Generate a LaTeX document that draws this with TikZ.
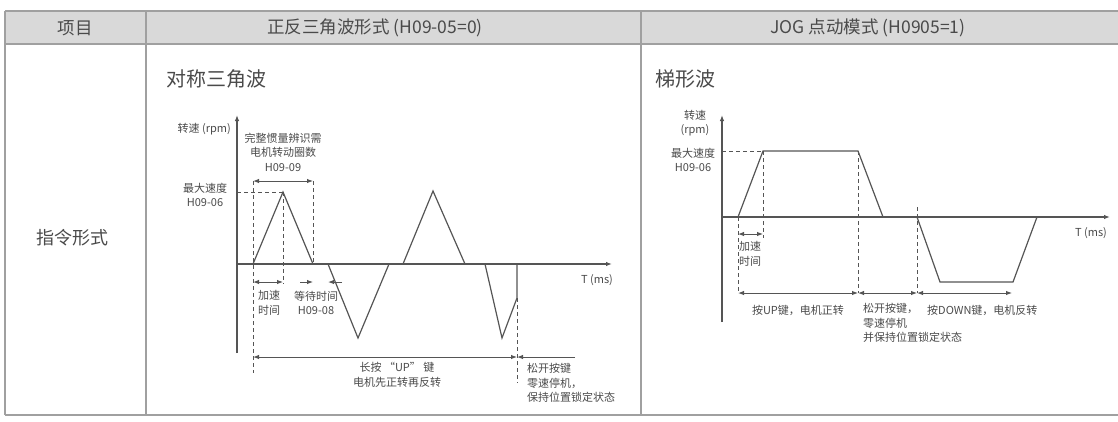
\documentclass[tikz,border=0pt]{standalone}
\usepackage{fontspec}
\setmainfont{Noto Sans CJK SC}
\usetikzlibrary{arrows.meta}
\definecolor{txt}{HTML}{4A4A4A}
\definecolor{ln}{HTML}{555555}
\definecolor{grid}{HTML}{A0A0A0}
\definecolor{hdr}{HTML}{D9D9D9}
\begin{document}
\begin{tikzpicture}[x=1pt,y=-1pt,
  gridline/.style={draw=grid,line width=1.2pt},
  hd/.style={font=\fontsize{17.5}{20}\selectfont,text=txt,inner sep=0pt},
  rowlbl/.style={font=\fontsize{18}{20}\selectfont,text=txt,inner sep=0pt},
  ttl/.style={font=\fontsize{20}{22}\selectfont,text=txt,inner sep=0pt},
  lbl/.style={font=\fontsize{11}{14.5}\selectfont,text=txt,inner sep=0pt,align=center},
  wave/.style={draw=ln,line width=1.2pt,line join=miter},
  axis/.style={draw=ln,line width=1.2pt},
  dsh/.style={draw=ln,line width=1pt,dash pattern=on 4pt off 3pt},
  tip/.style={-{Latex[length=6pt,width=4.5pt]}},
  dtip/.style={{Latex[length=6pt,width=4.5pt]}-{Latex[length=6pt,width=4.5pt]}},
  dim/.style={draw=ln,line width=1pt}]
\useasboundingbox (0,0) rectangle (1118,421);
% table
\fill[hdr] (5,11) rectangle (1118,44);
\coordinate (tl) at (5,11); \coordinate (tr) at (1118,11);
\coordinate (hl) at (5,44); \coordinate (hr) at (1118,44);
\coordinate (bl) at (5,415); \coordinate (br) at (1118,415);
\coordinate (c1t) at (146,11); \coordinate (c1b) at (146,415);
\coordinate (c2t) at (641,11); \coordinate (c2b) at (641,415);
\draw[gridline] (tl) -- (tr);
\draw[gridline] (hl) -- (hr);
\draw[gridline] (bl) -- (br);
\draw[gridline] (tl) -- (bl);
\draw[gridline] (c1t) -- (c1b);
\draw[gridline] (c2t) -- (c2b);
\node[hd] (h1) at (75,28) {项目};
\node[hd] (h2) at (375,28) {正反三角波形式 (H09-05=0)};
\node[hd] (h3) at (868,28) {JOG 点动模式 (H0905=1)};
\node[rowlbl,anchor=west] (r1) at (36,238) {指令形式};
\node[ttl,anchor=west] (t1) at (166,79) {对称三角波};
\node[ttl,anchor=west] (t2) at (655,79) {梯形波};

% ---------- left chart ----------
\coordinate (yt) at (237,115); \coordinate (yb) at (237,353);
\coordinate (o) at (237,264); \coordinate (xe) at (612,264);
\draw[axis,tip] (yb) -- (yt);
\draw[axis,tip] (o) -- (xe);
\coordinate (a0) at (253,264); \coordinate (a1) at (283,192);
\coordinate (a2) at (313,264); \coordinate (a3) at (328,264);
\coordinate (a4) at (358,338); \coordinate (a5) at (389,264);
\coordinate (a6) at (403,264); \coordinate (a7) at (433,191);
\coordinate (a8) at (465,264); \coordinate (a9) at (485,264);
\coordinate (a10) at (502,338); \coordinate (a11) at (517,298);
\coordinate (a12) at (517,264);
\draw[wave] (a0) -- (a1) -- (a2) -- (a3) -- (a4) -- (a5) -- (a6) -- (a7) -- (a8) -- (a9) -- (a10) -- (a11) -- (a12);
% dashed
\coordinate (m0) at (237,192);
\draw[dsh] (m0) -- (a1);
\coordinate (d1t) at (253,181); \coordinate (d1b) at (253,373);
\draw[dsh] (d1t) -- (d1b);
\coordinate (d2b) at (283,284);
\draw[dsh] (a1) -- (d2b);
\coordinate (d3t) at (313,181);
\draw[dsh] (d3t) -- (a2);
\coordinate (d4b) at (517,383);
\draw[dsh] (a11) -- (d4b);
% dimension arrows
\draw[dim,dtip] (d1t) -- (d3t);
\coordinate (e1) at (253,282); \coordinate (e2) at (283,282);
\draw[dim,dtip] (e1) -- (e2);
\coordinate (w0) at (300,282); \coordinate (w1) at (313,282);
\coordinate (w2) at (328,282); \coordinate (w3) at (342,282);
\draw[dim,tip] (w0) -- (w1);
\draw[dim,tip] (w3) -- (w2);
\coordinate (l0) at (253,357); \coordinate (l1) at (517,357); \coordinate (l2) at (575,357);
\draw[dim,dtip] (l0) -- (l1);
\draw[dim,tip] (l2) -- (l1);
% labels
\node[lbl,anchor=east] (ly) at (231,129) {转速 (rpm)};
\node[lbl] (lmax) at (205,195) {最大速度\\H09-06};
\node[lbl] (l09) at (283,152) {完整惯量辨识需\\电机转动圈数\\H09-09};
\node[lbl] (lacc) at (269,303) {加速\\时间};
\node[lbl] (lwait) at (316,303) {等待时间\\H09-08};
\node[lbl] (lup) at (397,375) {长按 “UP” 键\\电机先正转再反转};
\node[lbl,anchor=west,align=left] (lrel) at (527,383) {松开按键\\零速停机，\\保持位置锁定状态};
\node[lbl] (lt) at (597,280) {T (ms)};

% ---------- right chart ----------
\coordinate (Yt) at (722,115); \coordinate (Yb) at (722,322);
\coordinate (O) at (722,217); \coordinate (Xe) at (1110,217);
\draw[axis,tip] (Yb) -- (Yt);
\draw[axis,tip] (O) -- (Xe);
\coordinate (b0) at (738,217); \coordinate (b1) at (763,151);
\coordinate (b2) at (858,151); \coordinate (b3) at (883,217);
\coordinate (b4) at (917,217); \coordinate (b5) at (940,282);
\coordinate (b6) at (1013,282); \coordinate (b7) at (1037,217);
\draw[wave] (b0) -- (b1) -- (b2) -- (b3) -- (b4) -- (b5) -- (b6) -- (b7);
\coordinate (M0) at (722,151);
\draw[dsh] (M0) -- (b1);
\coordinate (D0) at (738,293); \coordinate (D1) at (763,238);
\coordinate (D2) at (858,293); \coordinate (D3t) at (917,207); \coordinate (D3) at (917,293);
\draw[dsh] (b0) -- (D0);
\draw[dsh] (b1) -- (D1);
\draw[dsh] (b2) -- (D2);
\draw[dsh] (D3t) -- (D3);
\coordinate (E0) at (738,234); \coordinate (E1) at (763,234);
\draw[dim,dtip] (E0) -- (E1);
\coordinate (F3) at (1012,293);
\draw[dim,dtip] (D0) -- (D2);
\draw[dim,dtip] (D2) -- (D3);
\draw[dim,dtip] (D3) -- (F3);
\node[lbl] (Ry) at (695,123) {转速\\(rpm)};
\node[lbl] (Rmax) at (693,160) {最大速度\\H09-06};
\node[lbl,align=left,anchor=west] (Racc) at (739,254) {加速\\时间};
\node[lbl] (Rt) at (1091,233) {T (ms)};
\node[lbl] (Rup) at (798,310) {按UP键，电机正转};
\node[lbl,anchor=north west,align=left] (Rrel) at (863,303) {松开按键，\\零速停机\\并保持位置锁定状态};
\node[lbl,anchor=west] (Rdn) at (927,310) {按DOWN键，电机反转};
\end{tikzpicture}
\end{document}
